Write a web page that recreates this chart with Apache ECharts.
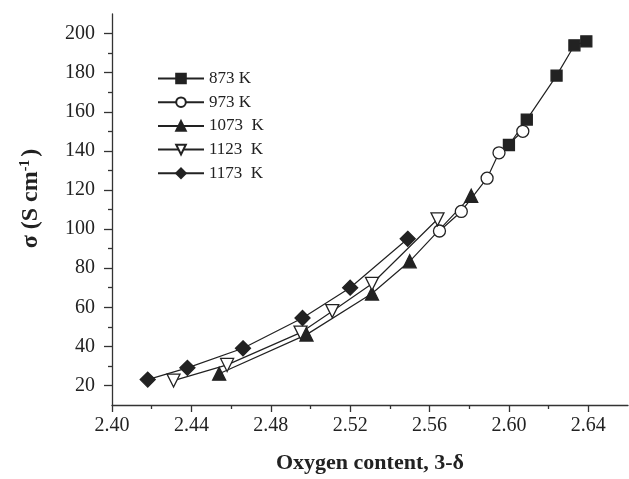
<!DOCTYPE html>
<html>
<head>
<meta charset="utf-8">
<script src="https://cdn.jsdelivr.net/npm/echarts@6/dist/echarts.min.js"></script>
<style>html,body{margin:0;padding:0;background:#fff;}#c{width:629px;height:479px;}</style>
</head>
<body>
<div id="c"></div>
<script>
const seriesNames = ['873 K', '973 K', '1073  K', '1123  K', '1173  K'];
const s873 = [[2.600,143],[2.609,156],[2.624,178.5],[2.633,194],[2.639,196]];
const s973 = [[2.565,99],[2.576,109],[2.589,126],[2.595,139],[2.607,150]];
const s1073 = [[2.454,26],[2.498,46],[2.531,67],[2.550,83.5],[2.581,117]];
const s1123 = [[2.431,22.5],[2.458,30.5],[2.495,47],[2.511,58],[2.531,72],[2.564,105]];
const s1173 = [[2.418,23],[2.438,29],[2.466,39],[2.496,54.5],[2.520,70],[2.549,95]];
const xMajor = [2.40,2.44,2.48,2.52,2.56,2.60,2.64];
const xMinor = [2.42,2.46,2.50,2.54,2.58,2.62];
const yMajor = [20,40,60,80,100,120,140,160,180,200];
const yMinor = [30,50,70,90,110,130,150,170,190];

const FONT = 'Liberation Serif';
const INK = '#222';
const chart = echarts.init(document.getElementById('c'));

function mk(name, data, symbol, size, filled, rotate) {
  return {
    name, type: 'line', data, symbol, symbolSize: size, symbolRotate: rotate || 0,
    xAxisIndex: 0, yAxisIndex: 0,
    lineStyle: {color: INK, width: 1.2},
    itemStyle: {color: filled ? INK : '#fff', borderColor: INK, borderWidth: 1.3},
    showSymbol: true, animation: false, z: 3
  };
}

const baseX = {
  type: 'value', min: 2.40, max: 2.66, interval: 0.02,
  splitLine: {show: false}
};
const baseY = {
  type: 'value', min: 10, max: 210, interval: 10,
  splitLine: {show: false}
};

chart.setOption({
  backgroundColor: '#fff',
  animation: false,
  grid: {left: 112, right: 1, top: 14, bottom: 71, containLabel: false},
  legend: {
    orient: 'vertical', left: 152, top: 65, itemWidth: 46, itemHeight: 12, itemGap: 6.7,
    textStyle: {fontFamily: FONT, fontSize: 17, color: INK},
    data: seriesNames
  },
  xAxis: [
    Object.assign({}, baseX, {
      position: 'bottom',
      name: 'Oxygen content, 3-δ', nameLocation: 'middle', nameGap: 47,
      nameTextStyle: {fontFamily: FONT, fontSize: 22, fontWeight: 'bold', color: INK},
      axisLine: {show: true, lineStyle: {color: '#333', width: 1.3}},
      axisTick: {show: true, length: 7, customValues: xMajor, lineStyle: {color: '#333', width: 1.3}},
      axisLabel: {customValues: xMajor, fontFamily: FONT, fontSize: 20, color: INK, margin: 11,
        formatter: v => v.toFixed(2)}
    }),
    Object.assign({}, baseX, {
      position: 'bottom',
      axisLine: {show: false},
      axisTick: {show: true, length: 4, customValues: xMinor, lineStyle: {color: '#333', width: 1.3}},
      axisLabel: {show: false}
    })
  ],
  yAxis: [
    Object.assign({}, baseY, {
      position: 'left',
      name: '{a|σ (S cm}{s|-1}{a|)}', nameLocation: 'middle', nameGap: 68,
      nameTextStyle: {fontFamily: FONT, fontSize: 24, fontWeight: 'bold', color: INK, padding: [0,0,0,22],
        rich: {
          a: {fontFamily: FONT, fontSize: 24, fontWeight: 'bold', color: INK},
          s: {fontFamily: FONT, fontSize: 14, fontWeight: 'bold', color: INK, verticalAlign: 'top', padding: [0,3,12,0]}
        }},
      axisLine: {show: true, lineStyle: {color: '#333', width: 1.3}},
      axisTick: {show: true, length: 8, customValues: yMajor, lineStyle: {color: '#333', width: 1.3}},
      axisLabel: {customValues: yMajor, fontFamily: FONT, fontSize: 20, color: INK, margin: 17}
    }),
    Object.assign({}, baseY, {
      position: 'left',
      axisLine: {show: false},
      axisTick: {show: true, length: 4, customValues: yMinor, lineStyle: {color: '#333', width: 1.3}},
      axisLabel: {show: false}
    })
  ],
  series: [
    mk(seriesNames[0], s873, 'rect', 11, true),
    mk(seriesNames[1], s973, 'circle', 12, false),
    mk(seriesNames[2], s1073, 'triangle', 13, true),
    mk(seriesNames[3], s1123, 'triangle', 13, false, 180),
    mk(seriesNames[4], s1173, 'diamond', 15, true)
  ]
});
</script>
</body>
</html>
